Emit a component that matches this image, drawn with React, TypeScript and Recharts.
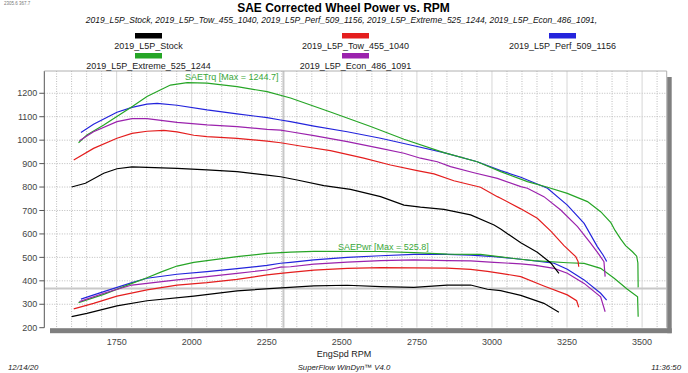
import React from 'react';
import { LineChart, Line, XAxis, YAxis, CartesianGrid, ReferenceLine } from 'recharts';

// ---------- data ----------
const stockTqRpm = [1600, 1646, 1707, 1751, 1801, 1851, 1951, 2051, 2151, 2251, 2296, 2351, 2440, 2529, 2629, 2707, 2762, 2840, 2929, 3007, 3029, 3096, 3151, 3196, 3223];
const stockTq = [800, 816, 859, 878, 886, 884, 880, 873, 866, 851, 844, 830, 806, 790, 759, 723, 714, 705, 681, 638, 621, 562, 522, 476, 432];
const stockHpRpm = [1600, 1651, 1751, 1851, 2007, 2151, 2285, 2407, 2518, 2629, 2740, 2851, 2929, 2985, 3029, 3096, 3173, 3223];
const stockHp = [247, 261, 293, 315, 335, 357, 369, 378, 381, 375, 372, 382, 382, 364, 358, 338, 304, 266];

const towTqRpm = [1607, 1673, 1751, 1801, 1851, 1907, 1951, 2007, 2051, 2151, 2251, 2296, 2362, 2462, 2573, 2662, 2751, 2807, 2873, 2962, 3018, 3029, 3096, 3151, 3196, 3240, 3279, 3287, 3289];
const towTq = [915, 965, 1008, 1029, 1038, 1042, 1035, 1021, 1015, 1008, 996, 989, 975, 955, 923, 894, 870, 856, 827, 799, 759, 752, 707, 667, 612, 550, 503, 482, 460];
const towHpRpm = [1607, 1673, 1751, 1851, 1951, 2051, 2151, 2251, 2296, 2329, 2407, 2518, 2629, 2740, 2851, 2929, 2985, 3029, 3096, 3173, 3251, 3282, 3289];
const towHp = [280, 304, 335, 361, 382, 392, 406, 425, 432, 436, 446, 453, 456, 455, 454, 449, 440, 432, 418, 378, 340, 315, 287];

const perfTqRpm = [1631, 1673, 1751, 1801, 1851, 1885, 1951, 2051, 2151, 2251, 2296, 2329, 2407, 2518, 2629, 2740, 2840, 2951, 3029, 3096, 3185, 3251, 3307, 3351, 3370, 3379, 3382];
const perfTq = [1033, 1068, 1119, 1140, 1154, 1157, 1149, 1129, 1112, 1096, 1086, 1079, 1060, 1036, 1008, 976, 947, 908, 870, 842, 795, 723, 645, 546, 510, 490, 482];
const perfHpRpm = [1631, 1707, 1801, 1851, 1951, 2051, 2151, 2251, 2296, 2329, 2407, 2518, 2629, 2740, 2851, 2929, 3007, 3096, 3207, 3251, 3307, 3362, 3382];
const perfHp = [322, 354, 392, 411, 428, 439, 452, 466, 475, 479, 489, 500, 507, 513, 513, 510, 503, 492, 475, 449, 404, 347, 318];

const extTqRpm = [1623, 1651, 1707, 1801, 1851, 1929, 1985, 2051, 2151, 2251, 2329, 2462, 2596, 2707, 2840, 2951, 3029, 3118, 3185, 3251, 3318, 3362, 3396, 3410, 3429, 3445, 3468, 3482, 3486, 3487];
const extTq = [989, 1022, 1065, 1143, 1186, 1235, 1245, 1243, 1228, 1207, 1180, 1120, 1058, 1004, 947, 908, 866, 823, 799, 773, 738, 695, 648, 615, 578, 550, 524, 505, 476, 372];
const extHpRpm = [1623, 1707, 1801, 1851, 1901, 1951, 2007, 2051, 2151, 2251, 2329, 2407, 2629, 2740, 2851, 2962, 3029, 3096, 3140, 3251, 3307, 3362, 3407, 3451, 3485, 3487];
const extHp = [307, 342, 389, 413, 439, 463, 479, 486, 503, 517, 522, 526, 525, 520, 514, 513, 502, 492, 486, 477, 474, 453, 411, 364, 332, 247];

const econTqRpm = [1626, 1673, 1751, 1801, 1851, 1951, 2051, 2151, 2251, 2296, 2329, 2407, 2518, 2629, 2707, 2762, 2818, 2862, 2940, 3018, 3096, 3118, 3173, 3229, 3285, 3329, 3355, 3373, 3377];
const econTq = [997, 1036, 1079, 1092, 1092, 1076, 1065, 1058, 1046, 1043, 1036, 1019, 994, 965, 944, 923, 908, 887, 861, 837, 802, 795, 759, 702, 631, 560, 515, 482, 418];
const econHpRpm = [1626, 1707, 1801, 1851, 1951, 2051, 2151, 2251, 2296, 2329, 2407, 2518, 2629, 2740, 2851, 2929, 3007, 3096, 3140, 3207, 3251, 3307, 3362, 3377];
const econHp = [311, 347, 382, 389, 404, 418, 432, 446, 458, 460, 471, 480, 486, 489, 486, 485, 479, 472, 467, 453, 432, 389, 332, 268];

const xTicks = [1750, 2000, 2250, 2500, 2750, 3000, 3250, 3500];
const yTicks = [200, 300, 400, 500, 600, 700, 800, 900, 1000, 1100, 1200];
const xMinor = [1550, 1600, 1650, 1700, 1800, 1850, 1900, 1950, 2050, 2100, 2150, 2200, 2300, 2350, 2400, 2450, 2550, 2600, 2650, 2700, 2800, 2850, 2900, 2950, 3050, 3100, 3150, 3200, 3300, 3350, 3400, 3450, 3550];
const yGrid = [300, 400, 500, 600, 700, 800, 900, 1000, 1100, 1200];

const cursorRpm = 2305.6;
const cursorVal = 367.7;

const seriesNames = ['2019_L5P_Stock', '2019_L5P_Tow_455_1040', '2019_L5P_Perf_509_1156', '2019_L5P_Extreme_525_1244', '2019_L5P_Econ_486_1091'];
const seriesColors = ['#000000', '#e41e1e', '#2424dc', '#26a526', '#9b22ad'];
const torqueNote = 'SAETrq [Max = 1244.7]';
const powerNote = 'SAEPwr [Max = 525.8]';

const zip = (rpm: number[], v: number[]) => rpm.map((r, i) => ({ rpm: r, v: v[i] }));

const series = [
  { name: seriesNames[0], color: seriesColors[0], tq: zip(stockTqRpm, stockTq), hp: zip(stockHpRpm, stockHp) },
  { name: seriesNames[1], color: seriesColors[1], tq: zip(towTqRpm, towTq), hp: zip(towHpRpm, towHp) },
  { name: seriesNames[2], color: seriesColors[2], tq: zip(perfTqRpm, perfTq), hp: zip(perfHpRpm, perfHp) },
  { name: seriesNames[3], color: seriesColors[3], tq: zip(extTqRpm, extTq), hp: zip(extHpRpm, extHp) },
  { name: seriesNames[4], color: seriesColors[4], tq: zip(econTqRpm, econTq), hp: zip(econHpRpm, econHp) },
];

// legend layout: [series index, column center, row]
const legendSlots = [
  [0, 148.5, 0],
  [1, 355.5, 0],
  [2, 562.5, 0],
  [3, 148.5, 1],
  [4, 355.5, 1],
];

const FONT = '"Liberation Sans", Arial, Helvetica, sans-serif';
const PL = 44.3, PR = 666.7, PT = 71, PB = 327.7;

export default function App() {
  return (
    <div style={{ position: 'absolute', left: 0, top: 0, width: 688, height: 373, background: '#fff', fontFamily: FONT }}>
      <LineChart
        width={688}
        height={373}
        margin={{ top: PT, right: 688 - PR, bottom: 373 - PB - 30, left: 0 }}
        style={{ position: 'absolute', left: 0, top: 0 }}
      >
        <CartesianGrid
          stroke="#bcbcbc"
          strokeDasharray="1 1.5"
          verticalValues={xMinor}
          horizontalValues={yGrid}
        />
        {xTicks.map((t) => (
          <ReferenceLine key={'maj' + t} x={t} stroke="#d6d6d6" strokeWidth={1} ifOverflow="hidden" />
        ))}
        <ReferenceLine x={cursorRpm} stroke="#c8c8c8" strokeWidth={2} />
        <ReferenceLine y={cursorVal} stroke="#c8c8c8" strokeWidth={2} />
        <XAxis
          type="number"
          dataKey="rpm"
          domain={[1509, 3582]}
          ticks={xTicks}
          interval={0}
          allowDataOverflow
          axisLine={false}
          tickLine={false}
          tickSize={6}
          tickMargin={5}
          height={30}
          tick={{ fontSize: 9, fill: '#444', fontFamily: FONT }}
        />
        <YAxis
          type="number"
          domain={[200, 1295]}
          ticks={yTicks}
          interval={0}
          allowDataOverflow
          width={PL}
          axisLine={{ stroke: '#555' }}
          tickLine={{ stroke: '#555' }}
          tickSize={5}
          tickMargin={2}
          tick={{ fontSize: 9, fill: '#444', fontFamily: FONT }}
        />
        {series.map((s) => (
          <Line
            key={s.name + '_hp'}
            data={s.hp}
            dataKey="v"
            type="linear"
            stroke={s.color}
            strokeWidth={1.2}
            dot={false}
            isAnimationActive={false}
          />
        ))}
        {series.map((s) => (
          <Line
            key={s.name + '_tq'}
            data={s.tq}
            dataKey="v"
            type="linear"
            stroke={s.color}
            strokeWidth={1.2}
            dot={false}
            isAnimationActive={false}
          />
        ))}
      </LineChart>
      <svg width={688} height={373} style={{ position: 'absolute', left: 0, top: 0, pointerEvents: 'none' }} fontFamily={FONT}>
        {/* frame & shadow */}
        <line x1={PL} y1={PT} x2={PR} y2={PT} stroke="#b0b0b0" strokeWidth={1} />
        <line x1={PR} y1={PT} x2={PR} y2={PB} stroke="#b0b0b0" strokeWidth={1} />
        <rect x={50} y={PB + 0.5} width={PR - 50 + 5} height={5} fill="#7f7f7f" />
        <rect x={PR + 0.5} y={PT + 6} width={4.5} height={PB - PT - 6 + 5.5} fill="#7f7f7f" />
        {/* header */}
        <text x={4} y={5} fontSize={4.5} fill="#777">{cursorRpm} {cursorVal}</text>
        <text x={343.5} y={11.5} fontSize={12} fontWeight="bold" textAnchor="middle" fill="#000">SAE Corrected Wheel Power vs. RPM</text>
        <text x={341.5} y={23} fontSize={8.5} fontStyle="italic" textAnchor="middle" fill="#111">{seriesNames.join(', ') + ','}</text>
        {legendSlots.map(([i, cx, row]) => (
          <g key={'lg' + i}>
            <rect x={cx - 13.5} y={33 + row * 20} width={27} height={5.5} fill={seriesColors[i]} />
            <text x={cx} y={49 + row * 20.3} fontSize={9} textAnchor="middle" fill="#222">{seriesNames[i]}</text>
          </g>
        ))}
        {/* annotations */}
        <text x={185} y={80} fontSize={9} fill="#3aa83a">{torqueNote}</text>
        <text x={338} y={250} fontSize={9} fill="#3aa83a">{powerNote}</text>
        {/* axis title & footer */}
        <text x={344} y={357} fontSize={9} textAnchor="middle" fill="#222">EngSpd RPM</text>
        <text x={8} y={370} fontSize={7.8} fontStyle="italic" fill="#222">12/14/20</text>
        <text x={344} y={370} fontSize={7.8} fontStyle="italic" textAnchor="middle" fill="#222">SuperFlow WinDyn™ V4.0</text>
        <text x={681} y={370} fontSize={7.8} fontStyle="italic" textAnchor="end" fill="#222">11:36:50</text>
      </svg>
    </div>
  );
}
